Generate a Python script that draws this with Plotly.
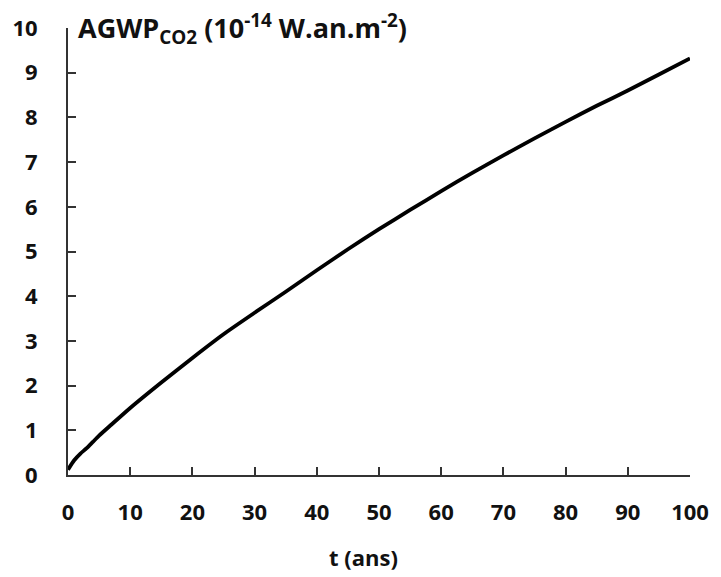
import plotly.graph_objects as go

t_years = [0, 1, 2, 3, 4, 5, 7, 10, 15, 20, 25, 30, 35, 40, 45, 50, 55, 60, 65, 70, 75, 80, 85, 90, 95, 100]
agwp_co2 = [0.12, 0.33, 0.48, 0.60, 0.74, 0.88, 1.13, 1.50, 2.07, 2.62, 3.15, 3.63, 4.10, 4.58, 5.05,
            5.50, 5.93, 6.35, 6.76, 7.15, 7.53, 7.90, 8.26, 8.60, 8.96, 9.32]
x_ticks = [0, 10, 20, 30, 40, 50, 60, 70, 80, 90, 100]
y_ticks = [0, 1, 2, 3, 4, 5, 6, 7, 8, 9, 10]

FONT = "Open Sans"
fig = go.Figure()
fig.add_trace(go.Scatter(x=t_years, y=agwp_co2, mode="lines",
                         line=dict(color="black", width=3.8, shape="spline", smoothing=0.6),
                         showlegend=False, hoverinfo="skip"))

tickfont = dict(family=FONT, size=22, color="#111111", weight="bold")
axis_common = dict(showgrid=False, zeroline=False, showline=True, linecolor="#333333", linewidth=2,
                   ticks="inside", ticklen=8, tickwidth=1.5, tickcolor="#333333",
                   tickfont=tickfont, ticklabeloverflow="allow")
fig.update_xaxes(range=[0, 100], tickvals=x_ticks, ticktext=[str(v) for v in x_ticks],
                 ticklabelstandoff=17, **axis_common)
fig.update_yaxes(range=[0, 10], tickvals=y_ticks, ticktext=[str(v) for v in y_ticks],
                 ticklabelstandoff=24, **axis_common)

fig.add_annotation(text="<b>AGWP<sub>CO2</sub> (10<sup>-14</sup> W.an.m<sup>-2</sup>)</b>",
                   xref="paper", yref="paper", x=0.013, y=1.0, xanchor="left", yanchor="middle",
                   showarrow=False, font=dict(family=FONT, size=27, color="#111111"))
fig.add_annotation(text="<b>t (ans)</b>", xref="paper", yref="paper", x=0.475, y=-0.183,
                   xanchor="center", yanchor="middle", showarrow=False,
                   font=dict(family=FONT, size=22, color="#111111"))

fig.update_layout(width=721, height=577, margin=dict(l=68, r=23, t=20, b=102),
                  plot_bgcolor="white", paper_bgcolor="white",
                  font=dict(family=FONT, size=22, color="#111111"))
fig.write_html("out.html")
